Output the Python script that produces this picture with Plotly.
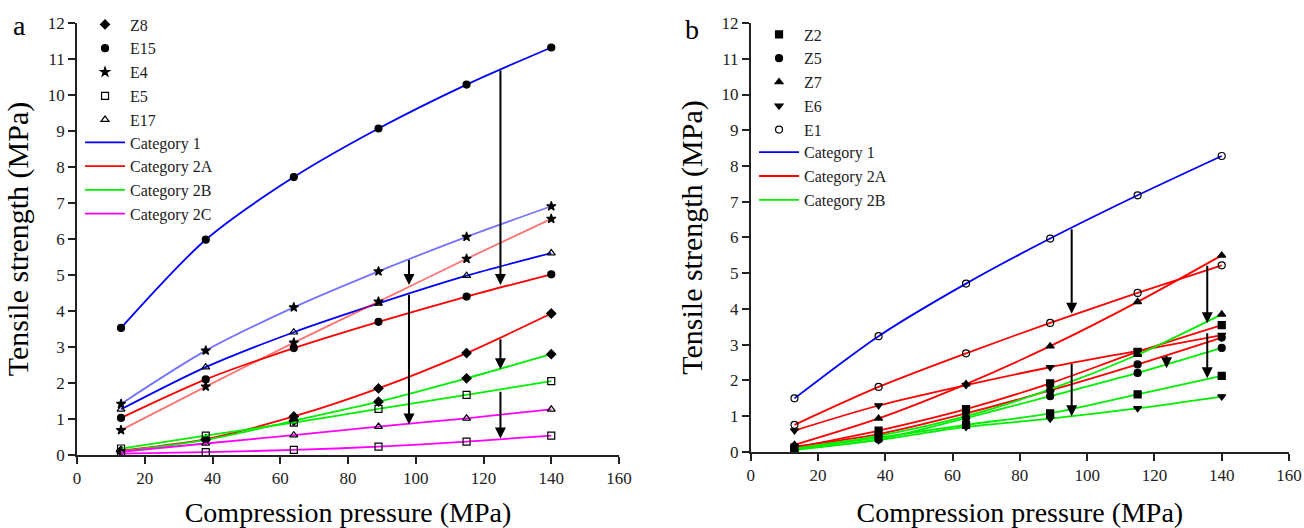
import plotly.graph_objects as go

# Compression pressures (MPa) shared by every series
pressure = [13, 38, 64, 89, 115, 140]

# Panel a: tensile strength (MPa) per sample and category
E15_cat1 = [3.53, 5.98, 7.72, 9.07, 10.29, 11.32]
E15_cat2A = [1.03, 2.10, 2.97, 3.70, 4.40, 5.02]
E4_cat1 = [1.42, 2.90, 4.10, 5.10, 6.06, 6.91]
E4_cat2A = [0.69, 1.90, 3.12, 4.26, 5.45, 6.56]
E17_cat1 = [1.27, 2.44, 3.41, 4.21, 4.98, 5.61]
E17_cat2C = [0.09, 0.32, 0.55, 0.79, 1.02, 1.27]
Z8_cat2A = [0.12, 0.44, 1.07, 1.85, 2.83, 3.93]
Z8_cat2B = [0.10, 0.42, 0.95, 1.48, 2.13, 2.80]
E5_cat2B = [0.18, 0.54, 0.90, 1.28, 1.67, 2.05]
E5_cat2C = [0.04, 0.08, 0.14, 0.23, 0.37, 0.54]

# Panel b
E1_cat1 = [1.50, 3.24, 4.71, 5.97, 7.18, 8.28]
E1_cat2A = [0.76, 1.82, 2.76, 3.61, 4.45, 5.22]
Z7_cat2A = [0.20, 0.94, 1.90, 2.96, 4.20, 5.50]
Z7_cat2B = [0.10, 0.45, 1.00, 1.75, 2.72, 3.85]
E6_cat2A = [0.60, 1.30, 1.87, 2.37, 2.83, 3.27]
E6_cat2B = [0.05, 0.33, 0.70, 0.93, 1.22, 1.55]
Z2_cat2A = [0.12, 0.60, 1.20, 1.92, 2.80, 3.55]
Z2_cat2B = [0.08, 0.40, 0.76, 1.08, 1.61, 2.13]
Z5_cat2A = [0.15, 0.50, 1.08, 1.72, 2.45, 3.20]
Z5_cat2B = [0.08, 0.35, 0.95, 1.56, 2.21, 2.91]

# Arrows: (pressure, strength from, strength to)
arrows_a = [(125, 10.72, 4.72), (98, 5.46, 4.72), (98, 4.49, 0.85),
            (125, 3.26, 2.38), (125, 1.80, 0.46)]
arrows_b = [(95.4, 6.27, 3.87), (95.4, 2.50, 1.00), (135.7, 5.25, 3.60),
            (135.7, 3.36, 2.06), (123.6, 2.73, 2.34)]

BLUE = "#0000ff"
RED = "#ff0000"
GREEN = "#00ee00"
MAGENTA = "#ff00ff"
LBLUE = "rgba(0,0,255,0.55)"
LRED = "rgba(255,0,0,0.55)"
FONT = "Liberation Serif"
INK = "#222222"

fig = go.Figure()


def curve(y, color, symbol, xa, ya):
    fig.add_trace(go.Scatter(
        x=pressure, y=y, mode="lines+markers", xaxis=xa, yaxis=ya,
        line=dict(color=color, width=1.8, shape="spline", smoothing=0.8),
        marker=dict(symbol=symbol, size=7, color="black",
                    line=dict(color="black", width=1.2)),
        showlegend=False, hoverinfo="x+y"))


def legend_marker(name, symbol, legend):
    fig.add_trace(go.Scatter(
        x=[None], y=[None], mode="markers", name=name, legend=legend,
        marker=dict(symbol=symbol, size=7, color="black",
                    line=dict(color="black", width=1.2))))


def legend_line(name, color, legend):
    fig.add_trace(go.Scatter(
        x=[None], y=[None], mode="lines", name=name, legend=legend,
        line=dict(color=color, width=1.8)))


# Panel a curves
curve(E15_cat1, BLUE, "circle", "x", "y")
curve(E4_cat1, LBLUE, "star", "x", "y")
curve(E17_cat1, BLUE, "triangle-up-open", "x", "y")
curve(E15_cat2A, RED, "circle", "x", "y")
curve(E4_cat2A, LRED, "star", "x", "y")
curve(Z8_cat2A, RED, "diamond", "x", "y")
curve(Z8_cat2B, GREEN, "diamond", "x", "y")
curve(E5_cat2B, GREEN, "square-open", "x", "y")
curve(E17_cat2C, MAGENTA, "triangle-up-open", "x", "y")
curve(E5_cat2C, MAGENTA, "square-open", "x", "y")

# Panel b curves
curve(E1_cat1, BLUE, "circle-open", "x2", "y2")
curve(E1_cat2A, RED, "circle-open", "x2", "y2")
curve(Z7_cat2A, RED, "triangle-up", "x2", "y2")
curve(E6_cat2A, RED, "triangle-down", "x2", "y2")
curve(Z2_cat2A, RED, "square", "x2", "y2")
curve(Z5_cat2A, RED, "circle", "x2", "y2")
curve(Z7_cat2B, GREEN, "triangle-up", "x2", "y2")
curve(E6_cat2B, GREEN, "triangle-down", "x2", "y2")
curve(Z2_cat2B, GREEN, "square", "x2", "y2")
curve(Z5_cat2B, GREEN, "circle", "x2", "y2")

# Legends: sample symbols and category lines, for each panel
for name, sym in [("Z8", "diamond"), ("E15", "circle"), ("E4", "star"),
                  ("E5", "square-open"), ("E17", "triangle-up-open")]:
    legend_marker(name, sym, "legend")
for name, col in [("Category 1", BLUE), ("Category 2A", RED),
                  ("Category 2B", GREEN), ("Category 2C", MAGENTA)]:
    legend_line(name, col, "legend2")
for name, sym in [("Z2", "square"), ("Z5", "circle"), ("Z7", "triangle-up"),
                  ("E6", "triangle-down"), ("E1", "circle-open")]:
    legend_marker(name, sym, "legend3")
for name, col in [("Category 1", BLUE), ("Category 2A", RED),
                  ("Category 2B", GREEN)]:
    legend_line(name, col, "legend4")

annotations = []
for arr, xr, yr in [(arrows_a, "x", "y"), (arrows_b, "x2", "y2")]:
    for px, y0, y1 in arr:
        annotations.append(dict(
            x=px, y=y1, ax=px, ay=y0, xref=xr, yref=yr, axref=xr, ayref=yr,
            text="", showarrow=True, arrowhead=2, arrowsize=1.1,
            arrowwidth=2, arrowcolor="black", standoff=0, startstandoff=0))

annotations.append(dict(text="a", x=-0.107, y=0.9947, xref="x domain",
                        yref="y domain", showarrow=False,
                        xanchor="center", yanchor="middle",
                        font=dict(family=FONT, size=28, color="black")))
annotations.append(dict(text="b", x=-0.109, y=0.984, xref="x2 domain",
                        yref="y2 domain", showarrow=False,
                        xanchor="center", yanchor="middle",
                        font=dict(family=FONT, size=28, color="black")))

axis_common = dict(showline=True, linecolor=INK, linewidth=1.5,
                   ticks="outside", ticklen=7, tickwidth=1.5, tickcolor=INK,
                   showgrid=False, zeroline=False, automargin=False,
                   tickfont=dict(family=FONT, size=17, color=INK))

xaxis_common = dict(axis_common, range=[0, 160], dtick=20, tick0=0,
                    title=dict(text="Compression pressure (MPa)", standoff=22,
                               font=dict(family=FONT, size=28, color="black")))
yaxis_common = dict(axis_common, range=[0, 12], dtick=1, tick0=0,
                    title=dict(text="Tensile strength (MPa)", standoff=10,
                               font=dict(family=FONT, size=30, color="black")))

legend_common = dict(font=dict(family=FONT, size=16, color=INK),
                     bgcolor="rgba(0,0,0,0)", xanchor="left", yanchor="top",
                     tracegroupgap=0, itemwidth=40)

fig.update_layout(
    width=1304, height=528,
    margin=dict(l=77, r=15, t=23, b=73, autoexpand=False),
    plot_bgcolor="white", paper_bgcolor="white",
    font=dict(family=FONT),
    xaxis=dict(xaxis_common, domain=[0, 0.4472], anchor="y"),
    yaxis=dict(yaxis_common, domain=[0, 1], anchor="x"),
    xaxis2=dict(xaxis_common, domain=[0.5559, 1], anchor="y2"),
    yaxis2=dict(yaxis_common, domain=[0.007, 1], anchor="x2"),
    legend=dict(legend_common, x=0.0025, y=1.0359),
    legend2=dict(legend_common, x=0.0025, y=0.763),
    legend3=dict(legend_common, x=0.5586, y=1.0127),
    legend4=dict(legend_common, x=0.5586, y=0.740),
    annotations=annotations,
)

fig.write_html("out.html")
